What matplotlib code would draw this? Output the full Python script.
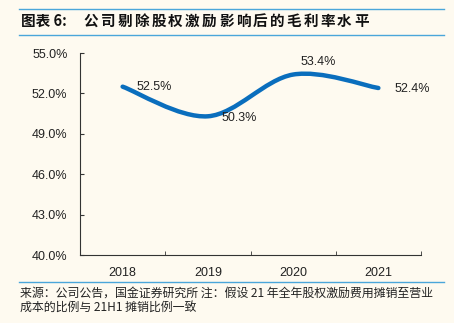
import matplotlib
matplotlib.use('Agg')
import matplotlib.pyplot as plt
from matplotlib.path import Path
from matplotlib.patches import PathPatch
from matplotlib.lines import Line2D
from matplotlib.ticker import FixedLocator, PercentFormatter
import numpy as np

plt.rcParams['font.family'] = ['Liberation Sans', 'Noto Sans CJK SC', 'DejaVu Sans']

years = ['2018', '2019', '2020', '2021']
margin = [52.5, 50.3, 53.4, 52.4]
yticks = [40, 43, 46, 49, 52, 55]
title_head = '图表 6:'
title_body = '公司剔除股权激励影响后的毛利率水平'
note = ['来源：公司公告，国金证券研究所 注：假设 21 年全年股权激励费用摊销至营业',
        '成本的比例与 21H1 摊销比例一致']

bg = '#FEFAF0'
blue = '#0A6EBD'
rule = '#4AA6DA'
cjk = ['Noto Sans CJK SC', 'DejaVu Sans']

fig = plt.figure(figsize=(4.54, 3.23), dpi=100, facecolor=bg)
ax = fig.add_axes([80/454, 68/323, 341/454, 202/323], facecolor=bg)

# smoothed line (cubic bezier through the points)
xs = np.arange(len(years), dtype=float)
ys = np.array(margin, dtype=float)
verts = [(xs[0], ys[0])]
codes = [Path.MOVETO]
n = len(xs)
for i in range(n - 1):
    p0 = np.array([xs[max(i - 1, 0)], ys[max(i - 1, 0)]])
    p1 = np.array([xs[i], ys[i]])
    p2 = np.array([xs[i + 1], ys[i + 1]])
    p3 = np.array([xs[min(i + 2, n - 1)], ys[min(i + 2, n - 1)]])
    c1 = p1 + (p2 - p0) / 6
    c2 = p2 - (p3 - p1) / 6
    verts += [tuple(c1), tuple(c2), tuple(p2)]
    codes += [Path.CURVE4] * 3
ax.add_patch(PathPatch(Path(verts, codes), facecolor='none', edgecolor=blue,
                       lw=3.2, capstyle='round', joinstyle='round'))

offsets = [(10, 0), (9.5, -1.5), (18, 9), (11.5, -0.8)]
for x, y, (dx, dy) in zip(xs, ys, offsets):
    ax.annotate(f'{y:.1f}%', (x, y), xytext=(dx, dy), textcoords='offset points',
                ha='left' if dx < 15 else 'center', va='center', fontsize=9, color='#222222')

ax.set_xlim(-0.5, 3.5)
ax.set_ylim(40, 55)
ax.set_yticks(yticks)
ax.yaxis.set_major_formatter(PercentFormatter(decimals=1))
ax.set_xticks(xs)
ax.set_xticklabels(years)
ax.xaxis.set_minor_locator(FixedLocator([0.5, 1.5, 2.5, 3.5]))
ax.tick_params(axis='x', which='major', length=0, pad=9, labelsize=9, labelcolor='#222222')
ax.tick_params(axis='x', which='minor', length=3, direction='in', color='#333333')
ax.tick_params(axis='y', length=3, direction='in', pad=9, labelsize=9,
               labelcolor='#222222', color='#333333')
for s in ['top', 'right']:
    ax.spines[s].set_visible(False)
for s in ['left', 'bottom']:
    ax.spines[s].set_color('#333333')
    ax.spines[s].set_linewidth(0.8)

# header / footer rules
for yy in [314, 288, 41]:
    fig.add_artist(Line2D([19/454, 444/454], [yy/323, yy/323], color=rule, lw=1.0))

# title, spaced out like the original
fig.text(21/454, 302/323, title_head, fontsize=10.5, fontweight='bold', color='#111111',
         family=cjk, va='center', ha='left')
for k, ch in enumerate(title_body):
    fig.text((91 + 16.9 * k)/454, 302/323, ch, fontsize=10.5, fontweight='bold',
             color='#111111', family=cjk, va='center', ha='center')

fig.text(20/454, 30/323, note[0], fontsize=8.6, color='#222222',
         family=cjk, va='center', ha='left')
fig.text(20/454, 15/323, note[1], fontsize=8.6, color='#222222',
         family=cjk, va='center', ha='left')

fig.savefig('out.png', dpi=100, facecolor=bg)
